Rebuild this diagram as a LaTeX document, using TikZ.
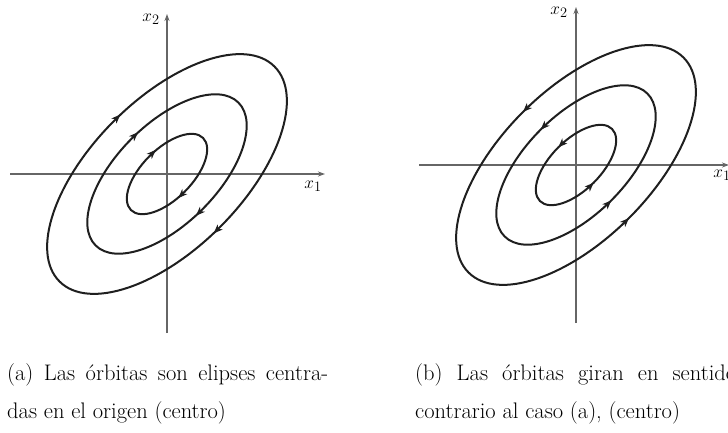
\documentclass[tikz,border=0pt]{standalone}
\usetikzlibrary{arrows.meta,decorations.markings}

\begin{document}
\begin{tikzpicture}[
    x=1pt, y=1pt,
    >={Stealth[length=9pt,width=7pt,inset=2.5pt]},
    axis/.style={
        draw=black!60,
        line width=1.2pt,
        -{Stealth[length=7pt,width=5pt]}
    },
    orbit/.style={
        draw=black!88,
        line width=2pt,
        postaction={decorate},
        decoration={markings,
            mark=at position 0.25 with {\arrow{#1}},
            mark=at position 0.75 with {\arrow{#1}}}
    },
    axlabel/.style={
        inner sep=0pt,
        font=\fontsize{19}{21}\selectfont
    },
    caption/.style={
        inner sep=0pt,
        anchor=base west,
        text width=321pt,
        align=justify,
        font=\fontsize{22.5}{38}\selectfont
    }
]
\useasboundingbox (0,0) rectangle (728,432);

% Left phase plane (a)
\coordinate (oa) at (167,258);
\coordinate (aw) at (10,258);
\coordinate (ae) at (325,258);
\coordinate (as) at (167,99);
\coordinate (an) at (167,418);
\draw[axis] (aw) -- (ae);
\draw[axis] (as) -- (an);
\node[axlabel] (ax1) at (313,246) {$x_1$};
\node[axlabel] (ax2) at (151,413) {$x_2$};

\draw[orbit=<] (oa) ellipse [x radius=152pt, y radius=75pt, rotate=45];
\draw[orbit=<] (oa) ellipse [x radius=101pt, y radius=50pt, rotate=45];
\draw[orbit=<] (oa) ellipse [x radius=51pt, y radius=25pt, rotate=45];

% Right phase plane (b)
\coordinate (ob) at (576,267);
\coordinate (bw) at (419,267);
\coordinate (be) at (729,267);
\coordinate (bs) at (576,109);
\coordinate (bn) at (576,425);
\draw[axis] (bw) -- (be);
\draw[axis] (bs) -- (bn);
\node[axlabel] (bx1) at (722,257) {$x_1$};
\node[axlabel] (bx2) at (559,420) {$x_2$};

\draw[orbit=>] (ob) ellipse [x radius=152pt, y radius=75pt, rotate=45];
\draw[orbit=>] (ob) ellipse [x radius=101pt, y radius=50pt, rotate=45];
\draw[orbit=>] (ob) ellipse [x radius=51pt, y radius=25pt, rotate=45];

% Captions
\node[caption] (capa) at (7,52) {(a) Las órbitas son elipses centra-\linebreak das en el origen (centro)};
\node[caption] (capb) at (415,52) {(b) Las órbitas giran en sentido\linebreak contrario al caso (a), (centro)};

\end{tikzpicture}
\end{document}
